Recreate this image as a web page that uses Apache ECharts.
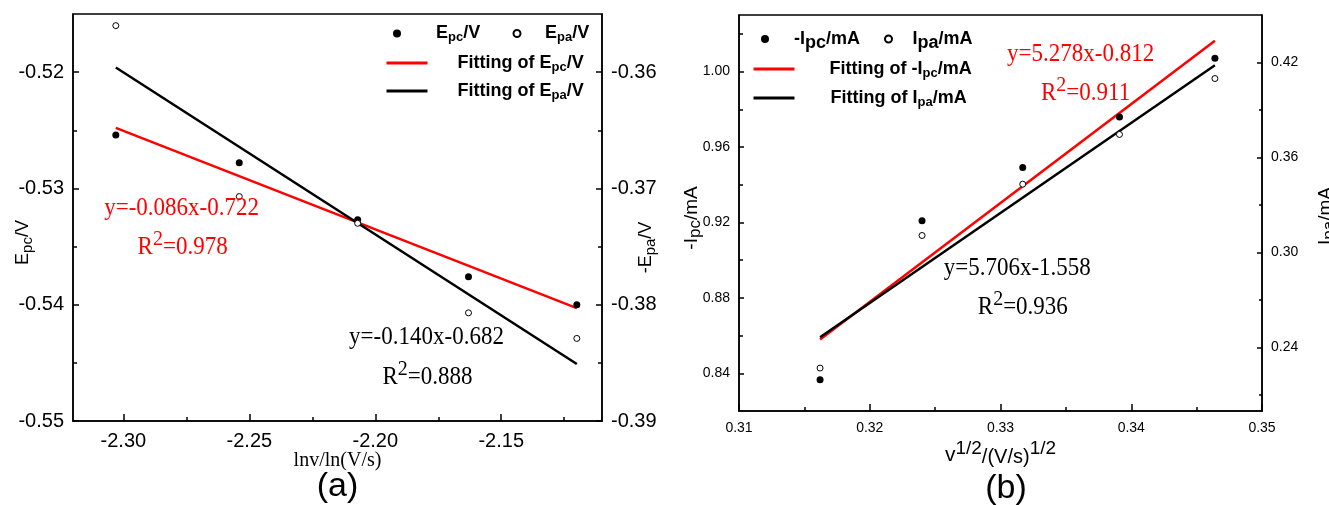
<!DOCTYPE html>
<html><head><meta charset="utf-8">
<script src="https://cdn.jsdelivr.net/npm/echarts@6/dist/echarts.min.js"></script>
<style>html,body{margin:0;padding:0;background:#fff}#c{width:1329px;height:505px}</style>
</head><body><div id="c"></div>
<script>
// ---------- panel (a) data ----------
const lnV = [-2.303, -2.254, -2.207, -2.163, -2.120];
const Epc = [-0.5254, -0.5278, -0.5327, -0.5376, -0.5400];
const Epa = [-0.3560, -0.3707, -0.3730, -0.3807, -0.3829];
const fitXa = [-2.303, -2.120];
const fitEpc = [-0.5248, -0.5403];
const fitEpa = [-0.3596, -0.3851];
// ---------- panel (b) data ----------
const sqrtV = [0.3162, 0.3240, 0.3317, 0.3391, 0.3464];
const Ipc = [0.8366, 0.9209, 0.9491, 0.9759, 1.0070];
const Ipa = [0.2271, 0.3108, 0.3432, 0.3746, 0.4099];
const fitXb = [0.3162, 0.3464];
const fitIpc = [0.8579, 1.0164];
const fitIpa = [0.2465, 0.4183];
// ---------- ticks ----------
const aXTicks = [-2.30, -2.25, -2.20, -2.15];
const aXMinor = [-2.275, -2.225, -2.175, -2.125];
const aYLTicks = [-0.55, -0.54, -0.53, -0.52];
const aYLMinor = [-0.545, -0.535, -0.525];
const aYRTicks = [-0.39, -0.38, -0.37, -0.36];
const aYRMinor = [-0.385, -0.375, -0.365];
const bXTicks = [0.31, 0.32, 0.33, 0.34, 0.35];
const bXMinor = [0.315, 0.325, 0.335, 0.345];
const bYLTicks = [0.84, 0.88, 0.92, 0.96, 1.00];
const bYLMinor = [0.86, 0.90, 0.94, 0.98, 1.02];
const bYRTicks = [0.24, 0.30, 0.36, 0.42];
const bYRMinor = [0.21, 0.27, 0.33, 0.39];

const SANS = '"Liberation Sans", Arial, sans-serif';
const SERIF = '"Liberation Serif", "Times New Roman", serif';
const RED = '#ff0000';
const zip = (xs, ys) => xs.map((x, i) => [x, ys[i]]);

function majorAxis(o) {
  const ax = {
    type: 'value', min: o.min, max: o.max, gridIndex: o.grid, position: o.pos,
    axisLine: { show: true, onZero: false, lineStyle: { color: '#000', width: 1.5 } },
    axisTick: { show: true, inside: true, length: o.tl, customValues: o.ticks, lineStyle: { color: '#000', width: 1.5 } },
    axisLabel: { show: true, customValues: o.ticks, formatter: v => v.toFixed(2), color: '#000', fontSize: o.fs, fontFamily: SANS, margin: o.margin },
    splitLine: { show: false }, nameMoveOverlap: false
  };
  return Object.assign(ax, o.extra || {});
}
function minorAxis(o) {
  return {
    type: 'value', min: o.min, max: o.max, gridIndex: o.grid, position: o.pos,
    axisLine: { show: false },
    axisTick: { show: true, inside: true, length: o.tl, customValues: o.ticks, lineStyle: { color: '#000', width: 1.5 } },
    axisLabel: { show: false }, splitLine: { show: false }
  };
}
function nameStyle(size, pad, subSize) {
  return {
    color: '#000', fontFamily: SANS, fontSize: size, padding: pad,
    rich: {
      a: { color: '#000', fontFamily: SANS, fontSize: size },
      s: { color: '#000', fontFamily: SANS, fontSize: subSize, padding: [8, 0, 0, 0] }
    }
  };
}

const legendFmt = {
  'Epc/V': 'E{s|pc}/V',
  'Epa/V': 'E{s|pa}/V',
  'Fitting of Epc/V': 'Fitting of E{s|pc}/V',
  'Fitting of Epa/V': 'Fitting of E{s|pa}/V',
  '-Ipc/mA': '-I{S|pc}/mA',
  'Ipa/mA': 'I{S|pa}/mA',
  'Fitting of -Ipc/mA': 'Fitting of -I{s|pc}/mA',
  'Fitting of Ipa/mA': 'Fitting of I{s|pa}/mA'
};
const legRich = {
  s: { fontSize: 13, fontWeight: 'bold', fontFamily: SANS, color: '#000', padding: [8, 0, 0, 0] },
  S: { fontSize: 18, fontWeight: 'bold', fontFamily: SANS, color: '#000', padding: [8, 0, 0, 0] }
};
function leg(name, left, top, iw, pad, isLine) {
  const l = {
    data: [name], left: left, top: top, orient: 'horizontal', padding: 0, itemGap: 0,
    itemWidth: iw, itemHeight: 24, selectedMode: false,
    formatter: n => legendFmt[n],
    textStyle: { fontFamily: SANS, fontWeight: 'bold', fontSize: 18, color: '#000', padding: [0, 0, 0, pad], rich: legRich }
  };
  if (isLine) { l.itemStyle = { opacity: 0 }; l.lineStyle = { width: 3, opacity: 1 }; }
  return l;
}

const annRich = (color) => ({
  r: { fill: color, color: color, fontFamily: SERIF, fontSize: 23 },
  p: { fill: color, color: color, fontFamily: SERIF, fontSize: 20, padding: [0, 0, 14, 0] }
});
function ann(x, y, text, color, align) {
  return {
    type: 'text', x: x, y: y, scaleY: 1.08, z: 100,
    style: { text: text, fill: color, fontFamily: SERIF, fontSize: 23, align: align, verticalAlign: 'middle', rich: annRich(color) }
  };
}

const option = {
  backgroundColor: '#fff',
  animation: false,
  grid: [
    { left: 73, top: 14, width: 529, height: 407, show: true, borderColor: '#000', borderWidth: 1.5, backgroundColor: 'transparent', containLabel: false, outerBoundsMode: 'none' },
    { left: 739, top: 15, width: 523, height: 396, show: true, borderColor: '#000', borderWidth: 1.5, backgroundColor: 'transparent', containLabel: false, outerBoundsMode: 'none' }
  ],
  xAxis: [
    majorAxis({ min: -2.32, max: -2.11, grid: 0, pos: 'bottom', tl: 7, ticks: aXTicks, fs: 20, margin: 10,
      extra: { name: 'lnv/ln(V/s)', nameLocation: 'middle', nameGap: 30, nameTextStyle: { color: '#000', fontFamily: SERIF, fontSize: 20 } } }),
    minorAxis({ min: -2.32, max: -2.11, grid: 0, pos: 'bottom', tl: 4, ticks: aXMinor }),
    majorAxis({ min: 0.31, max: 0.35, grid: 1, pos: 'bottom', tl: 7, ticks: bXTicks, fs: 14, margin: 10,
      extra: { name: '{v|v}{p|1/2}{m|/(V/s)}{p|1/2}', nameLocation: 'middle', nameGap: 28,
        nameTextStyle: { color: '#000', fontFamily: SANS, fontSize: 20, rich: {
          v: { color: '#000', fontFamily: SANS, fontSize: 21 },
          p: { color: '#000', fontFamily: SANS, fontSize: 19, padding: [0, 0, 14, 0] },
          m: { color: '#000', fontFamily: SANS, fontSize: 20, padding: [4, 0, 0, 0] }
        } } } }),
    minorAxis({ min: 0.31, max: 0.35, grid: 1, pos: 'bottom', tl: 4, ticks: bXMinor })
  ],
  yAxis: [
    majorAxis({ min: -0.55, max: -0.515, grid: 0, pos: 'left', tl: 6, ticks: aYLTicks, fs: 20, margin: 9,
      extra: { name: '{a|E}{s|pc}{a|/V}', nameLocation: 'middle', nameGap: 38, nameTextStyle: nameStyle(18, [0, 50, 0, 0], 15) } }),
    minorAxis({ min: -0.55, max: -0.515, grid: 0, pos: 'left', tl: 4, ticks: aYLMinor }),
    majorAxis({ min: -0.39, max: -0.355, grid: 0, pos: 'right', tl: 6, ticks: aYRTicks, fs: 20, margin: 9,
      extra: { name: '{a|-E}{s|pa}{a|/V}', nameLocation: 'middle', nameGap: 33, nameTextStyle: nameStyle(18, [0, 60, 0, 0], 15) } }),
    minorAxis({ min: -0.39, max: -0.355, grid: 0, pos: 'right', tl: 4, ticks: aYRMinor }),
    majorAxis({ min: 0.82, max: 1.03, grid: 1, pos: 'left', tl: 5, ticks: bYLTicks, fs: 14, margin: 9,
      extra: { name: '{a|-I}{s|pc}{a|/mA}', nameLocation: 'middle', nameGap: 35, nameTextStyle: nameStyle(19, [0, 10, 0, 0], 17) } }),
    minorAxis({ min: 0.82, max: 1.03, grid: 1, pos: 'left', tl: 4, ticks: bYLMinor }),
    majorAxis({ min: 0.20, max: 0.45, grid: 1, pos: 'right', tl: 5, ticks: bYRTicks, fs: 14, margin: 9,
      extra: { name: '{a|I}{s|pa}{a|/mA}', nameLocation: 'middle', nameGap: 51, nameTextStyle: nameStyle(19, [0, 6, 0, 0], 17) } }),
    minorAxis({ min: 0.20, max: 0.45, grid: 1, pos: 'right', tl: 3, ticks: bYRMinor })
  ],
  legend: [
    leg('Epc/V', 393, 24.5, 8, 30, false),
    leg('Epa/V', 512.5, 24.5, 7, 19.5, false),
    leg('Fitting of Epc/V', 385, 53.5, 41, 25, true),
    leg('Fitting of Epa/V', 385, 81.5, 41, 25, true),
    leg('-Ipc/mA', 761, 30, 8, 20, false),
    leg('Ipa/mA', 884, 30, 7, 15.5, false),
    leg('Fitting of -Ipc/mA', 752, 59.5, 41, 30, true),
    leg('Fitting of Ipa/mA', 752, 88.5, 41, 31, true)
  ],
  series: [
    { name: 'Fitting of Epc/V', type: 'line', xAxisIndex: 0, yAxisIndex: 0, data: zip(fitXa, fitEpc), symbol: 'none', lineStyle: { color: RED, width: 2.5 }, itemStyle: { color: RED }, z: 3 },
    { name: 'Fitting of Epa/V', type: 'line', xAxisIndex: 0, yAxisIndex: 2, data: zip(fitXa, fitEpa), symbol: 'none', lineStyle: { color: '#000', width: 2.5 }, itemStyle: { color: '#000' }, z: 3 },
    { name: 'Epc/V', type: 'scatter', xAxisIndex: 0, yAxisIndex: 0, data: zip(lnV, Epc), symbol: 'circle', symbolSize: 7, itemStyle: { color: '#000', opacity: 1 }, z: 4 },
    { name: 'Epa/V', type: 'scatter', xAxisIndex: 0, yAxisIndex: 2, data: zip(lnV, Epa), symbol: 'circle', symbolSize: 6, itemStyle: { color: '#fff', borderColor: '#000', borderWidth: 1, opacity: 1 }, z: 4 },
    { name: 'Fitting of -Ipc/mA', type: 'line', xAxisIndex: 2, yAxisIndex: 4, data: zip(fitXb, fitIpc), symbol: 'none', lineStyle: { color: RED, width: 2.5 }, itemStyle: { color: RED }, z: 3 },
    { name: 'Fitting of Ipa/mA', type: 'line', xAxisIndex: 2, yAxisIndex: 6, data: zip(fitXb, fitIpa), symbol: 'none', lineStyle: { color: '#000', width: 2.5 }, itemStyle: { color: '#000' }, z: 3 },
    { name: '-Ipc/mA', type: 'scatter', xAxisIndex: 2, yAxisIndex: 4, data: zip(sqrtV, Ipc), symbol: 'circle', symbolSize: 7, itemStyle: { color: '#000', opacity: 1 }, z: 4 },
    { name: 'Ipa/mA', type: 'scatter', xAxisIndex: 2, yAxisIndex: 6, data: zip(sqrtV, Ipa), symbol: 'circle', symbolSize: 6, itemStyle: { color: '#fff', borderColor: '#000', borderWidth: 1, opacity: 1 }, z: 4 }
  ],
  graphic: [
    ann(181.6, 208, 'y=-0.086x-0.722', RED, 'center'),
    ann(137.6, 247, '{r|R}{p|2}{r|=0.978}', RED, 'left'),
    ann(426.5, 337, 'y=-0.140x-0.682', '#000', 'center'),
    ann(382.5, 377, '{r|R}{p|2}{r|=0.888}', '#000', 'left'),
    ann(1080.6, 54, 'y=5.278x-0.812', RED, 'center'),
    ann(1041, 93, '{r|R}{p|2}{r|=0.911}', RED, 'left'),
    ann(1017.3, 268, 'y=5.706x-1.558', '#000', 'center'),
    ann(977.8, 307, '{r|R}{p|2}{r|=0.936}', '#000', 'left'),
    { type: 'text', x: 337.5, y: 487, style: { text: '(a)', fill: '#000', fontFamily: SANS, fontSize: 34, align: 'center', verticalAlign: 'middle' } },
    { type: 'text', x: 1006, y: 489, style: { text: '(b)', fill: '#000', fontFamily: SANS, fontSize: 34, align: 'center', verticalAlign: 'middle' } }
  ]
};
const chart = echarts.init(document.getElementById('c'), null, { renderer: 'canvas' });
chart.setOption(option);
</script>
</body></html>
